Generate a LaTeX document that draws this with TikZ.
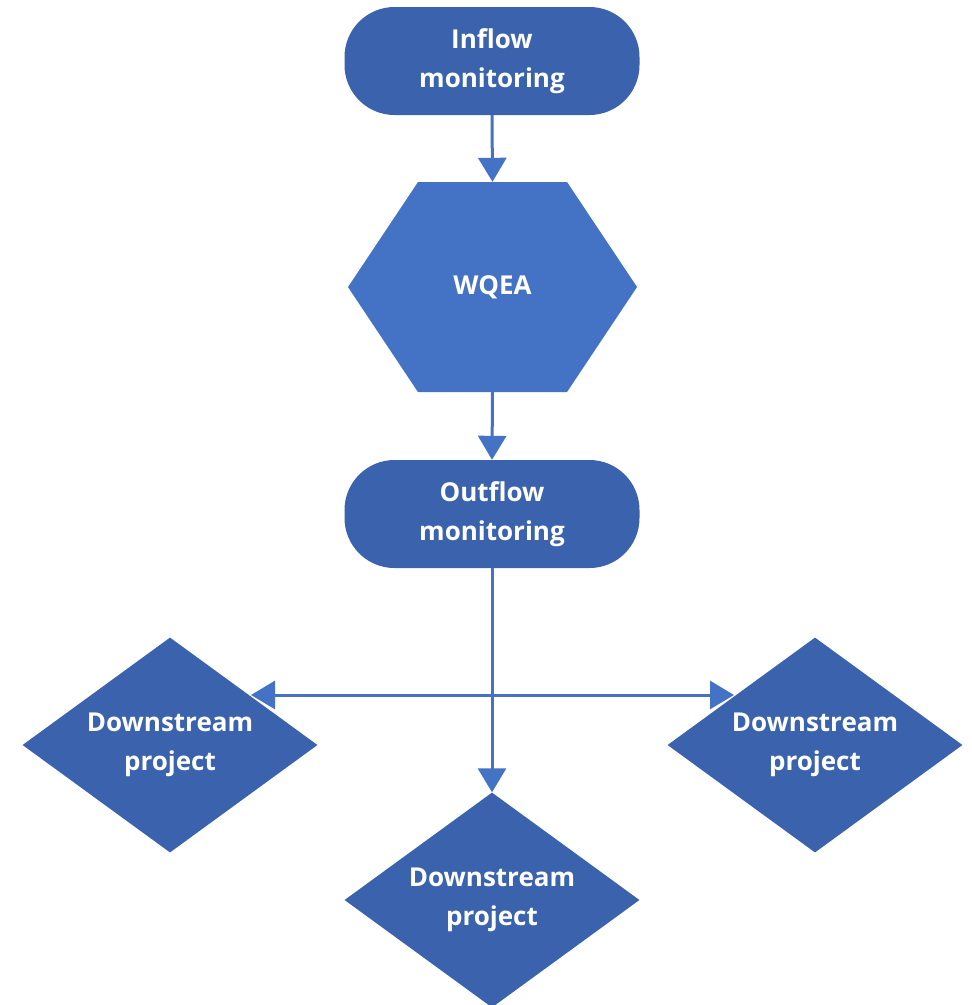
\documentclass[tikz,border=0pt]{standalone}
\usepackage{fontspec}
\setmainfont{Open Sans}
\usetikzlibrary{arrows.meta,shapes.geometric}
\definecolor{darkfill}{HTML}{3B63AD}
\definecolor{lightfill}{HTML}{4472C4}
\begin{document}
\begin{tikzpicture}[x=1pt,y=-1pt,
  lbl/.style={text=white,font=\fontsize{26}{39}\selectfont\bfseries,align=center},
  pill/.style={lbl,fill=darkfill,rounded corners=50pt,minimum width=295pt,minimum height=108pt,inner sep=0pt},
  dia/.style={lbl,diamond,fill=darkfill,aspect=1.37,minimum width=295pt,minimum height=215pt,inner sep=0pt},
  conn/.style={draw=lightfill,line width=3pt,-{Triangle[length=24pt,width=28pt]}}]
\useasboundingbox (0,0) rectangle (972,1005);
\fill[white] (0,0) rectangle (972,1005);
% nodes
\node[pill] (in) at (492,61) {Inflow\\monitoring};
\fill[lightfill] (348,287) -- (418,182) -- (567,182) -- (637,287) -- (567,392) -- (418,392) -- cycle;
\node[lbl,minimum width=289pt,minimum height=210pt,inner sep=0pt] (hex) at (492.5,287) {WQEA};
\node[pill] (out) at (492,514) {Outflow\\monitoring};
\node[dia] (dl) at (170,745) {Downstream\\project};
\node[dia] (dr) at (815,745) {Downstream\\project};
\node[dia] (db) at (492,900) {Downstream\\project};
% connectors
\draw[conn] (in.south) -- (hex.north);
\draw[conn] (hex.south) -- (out.north);
\draw[conn] (out.south) -- (db.north);
\coordinate (j) at (492,695);
\coordinate (lend) at (251,695);
\coordinate (rend) at (734,695);
\draw[conn] (j) -- (lend);
\draw[conn] (j) -- (rend);
\end{tikzpicture}
\end{document}
